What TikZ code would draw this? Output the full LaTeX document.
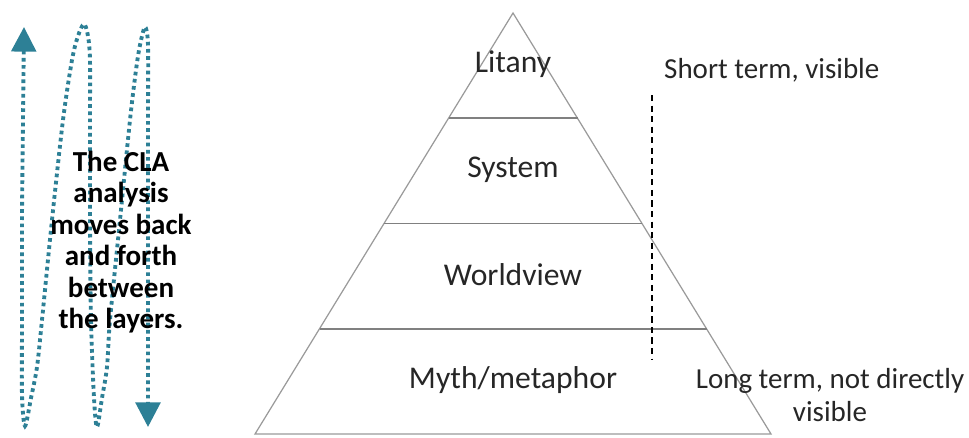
\documentclass[tikz,border=0pt]{standalone}
\usepackage{fontspec}
\setmainfont{Carlito}
\usetikzlibrary{
    calc,
    arrows.meta
}
\definecolor{claTeal}{RGB}{45,128,150}
\definecolor{layerGrey}{RGB}{128,128,128}
\tikzset{
    layer/.style={font=\fontsize{18}{20}\selectfont, text=black!85},
    note/.style={font=\fontsize{16.5}{19}\selectfont, text=black!85, align=center},
    wave/.style={claTeal, line width=2.2pt, dash pattern=on 2.1pt off 2pt,
        {Triangle[length=14pt,width=14pt]}-{Triangle[length=14pt,width=14pt]}},
    horizon/.style={black, line width=1.2pt, dash pattern=on 3.5pt off 2.5pt}
}

\begin{document}
\begin{tikzpicture}[x=0.02cm, y=-0.02cm]
    \useasboundingbox (0,0) rectangle (969,437);

    % the pyramid
    \coordinate (apex) at (513,13);
    \coordinate (bl) at (255,434);
    \coordinate (br) at (771,434);
    \draw[layerGrey!80, line width=0.7pt] (bl) -- (apex) -- (br) -- cycle;
    \foreach \f in {0.25,0.5,0.75}
        \draw[layerGrey, line width=1.1pt] ($(apex)!\f!(bl)$) -- ($(apex)!\f!(br)$);

    \node[layer] (litany) at (513,64) {Litany};
    \node[layer] (system) at (513,170) {System};
    \node[layer] (worldview) at (513,275) {Worldview};
    \node[layer] (myth) at (513,380) {Myth/metaphor};

    % short term / long term
    \coordinate (htop) at (652,95);
    \coordinate (hbot) at (652,360);
    \draw[horizon] (htop) -- (hbot);
    \node[note, anchor=west] (short) at (658,70) {Short term, visible};
    \node[note] (long) at (830,395) {Long term, not directly\\visible};

    % back and forth between the layers
    \draw[wave] plot[smooth, tension=0.5] coordinates {
        (24,27) (23,120) (22,220) (22,320) (22,395) (25,426) (31,398)
        (37,367) (42,320) (52,220) (63,120) (72,60) (78,36) (84,24)
        (88,36) (90,60) (90,120) (90,220) (91,320) (94,398) (97,427)
        (102,398) (107,367) (110,320) (120,220) (130,120) (136,70) (140,45)
        (145,27) (148,45) (148,120) (148,220) (148,320) (148,427)};
    \node[align=center, font=\bfseries\fontsize{16.5}{17.9}\selectfont] (cla) at (121,242)
        {The CLA\\analysis\\moves back\\and forth\\between\\the layers.};
\end{tikzpicture}
\end{document}
